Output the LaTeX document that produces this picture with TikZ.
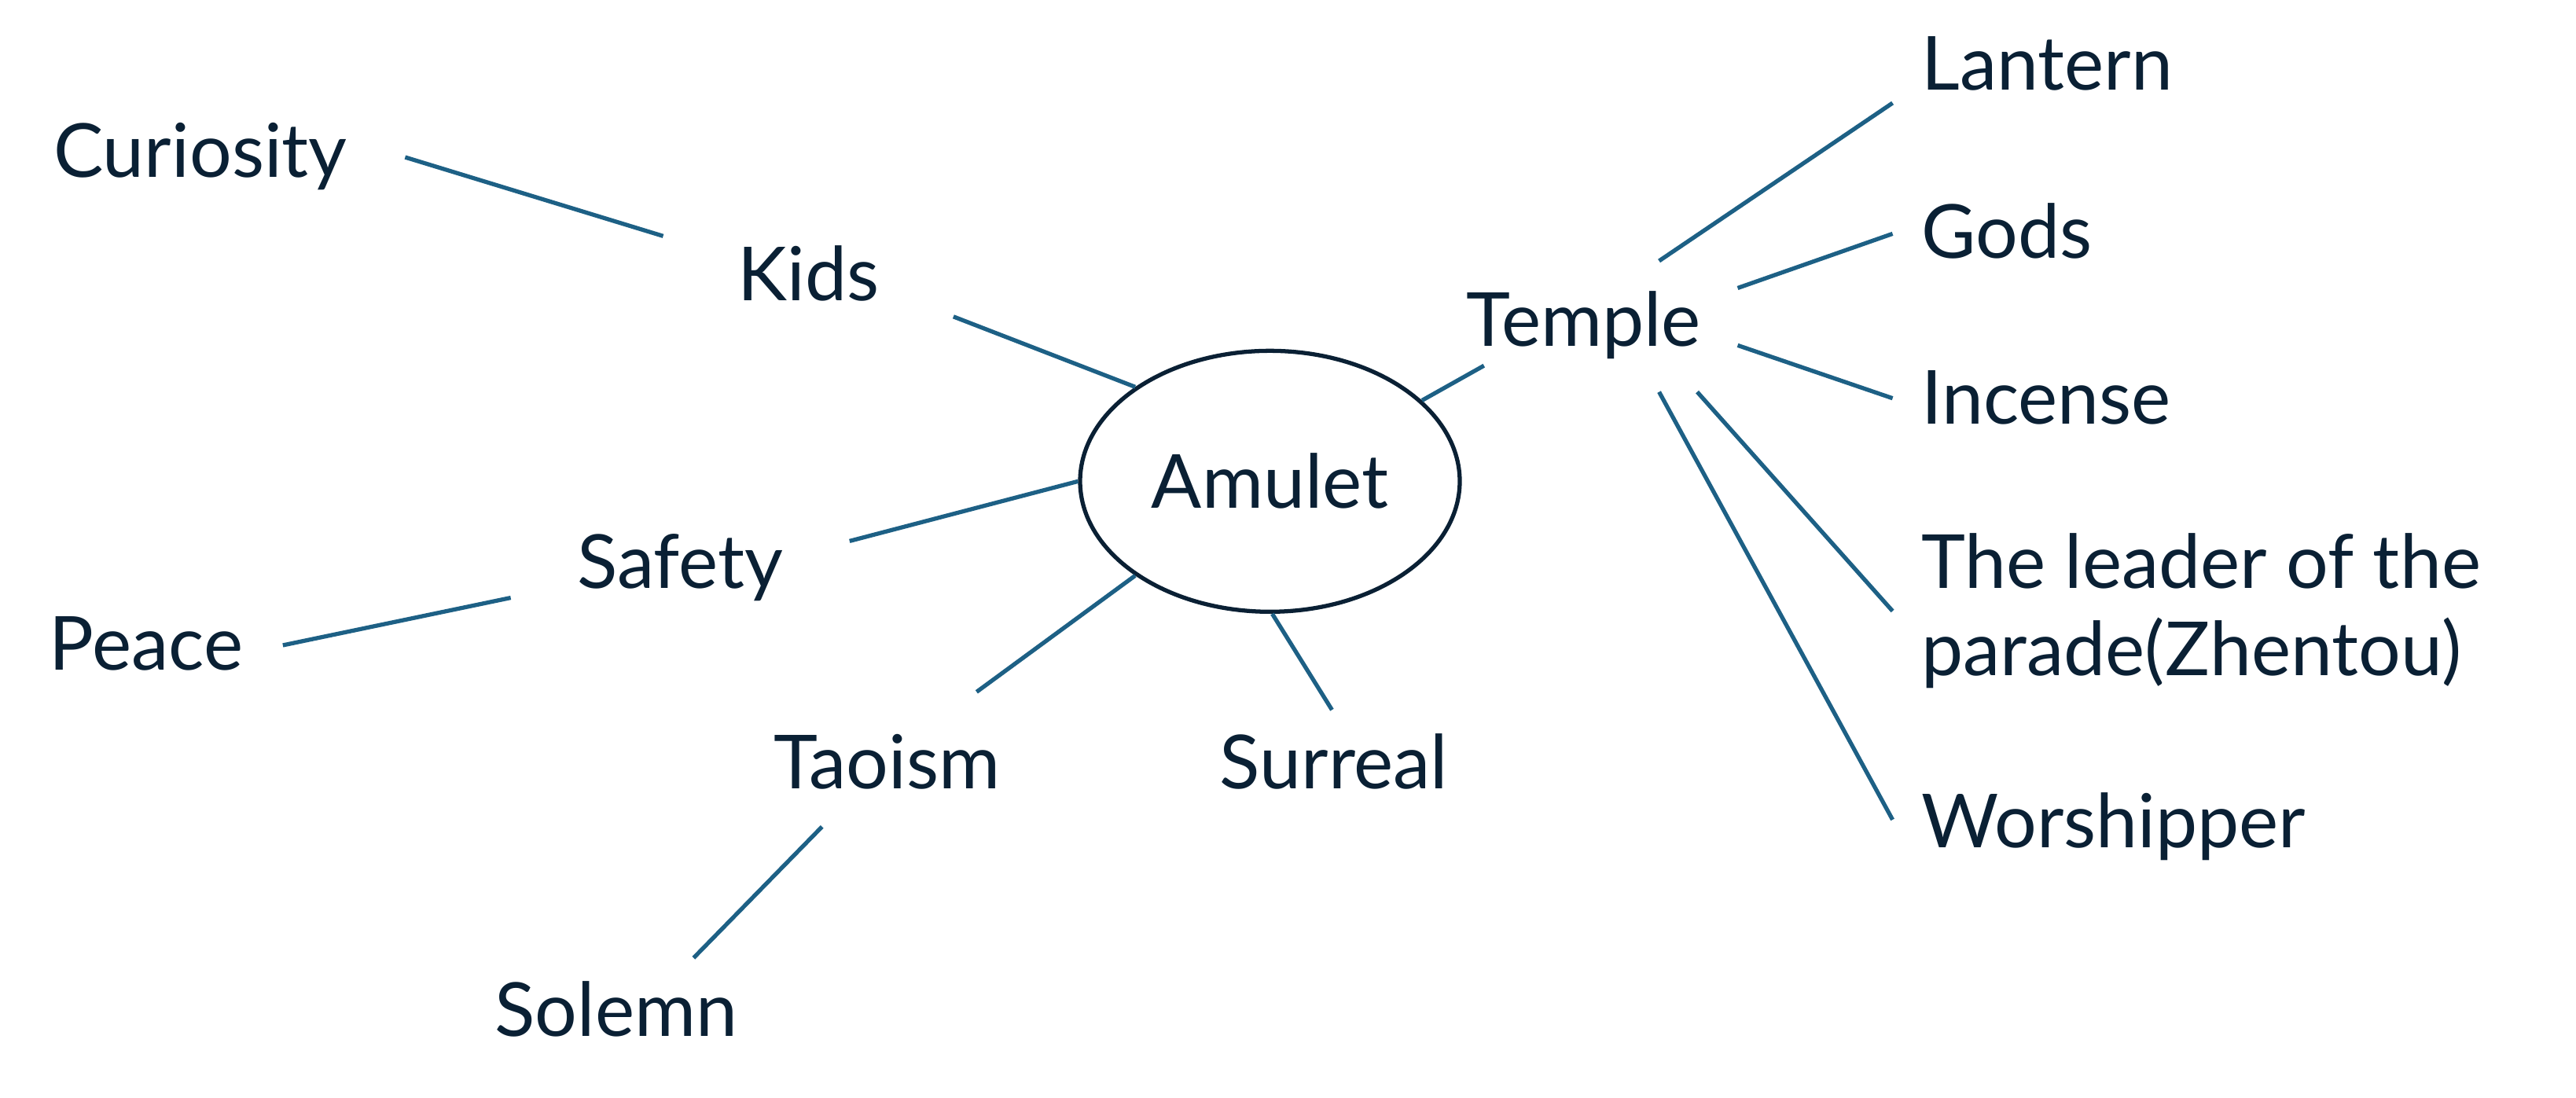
\documentclass[tikz,border=0pt]{standalone}
\usepackage{fontspec}
\setmainfont{Lato}
\usetikzlibrary{shapes.geometric}
\definecolor{ink}{HTML}{0A2034}
\definecolor{branch}{HTML}{1D6085}

\begin{document}
\begin{tikzpicture}[x=0.209mm,y=-0.209mm,
  idea/.style={text=ink,font=\fontsize{27}{31.5}\selectfont,inner xsep=0.73cm,inner ysep=0.29cm},
  word/.style={idea,text height=20pt,text depth=5.4pt,anchor=base},
  leaf/.style={word,anchor=base west,inner xsep=0.36cm},
  link/.style={draw=branch,line width=1.5pt}]
\useasboundingbox (0,0) rectangle (1568,668);

% centre
\node[ellipse,draw=ink,line width=1.5pt,minimum width=4.83cm,minimum height=3.32cm,
  inner sep=0,text=ink,font=\fontsize{27}{31.5}\selectfont] (amulet) at (773,293) {Amulet};

% left side
\node[word] (curiosity) at (122,108) {Curiosity};
\node[word,inner xsep=0.94cm] (kids) at (492,183) {Kids};
\node[word,inner xsep=0.84cm] (safety) at (414,358) {Safety};
\node[word,inner xsep=0.5cm] (peace) at (89,408) {Peace};
\node[word,text height=26.5pt] (taoism) at (540,480) {Taoism};
\node[word] (solemn) at (375,631) {Solemn};
\node[word] (surreal) at (812,480) {Surreal};

% temple and its leaves
\node[word,inner xsep=0.46cm,inner ysep=0.38cm] (temple) at (964,211) {Temple};
\node[leaf] (lantern) at (1152,55) {Lantern};
\node[leaf] (gods) at (1152,157) {Gods};
\node[leaf] (incense) at (1152,258) {Incense};
\node[idea,anchor=west,align=left,inner xsep=0.36cm] (leader) at (1152,372) {The leader of the\\parade(Zhentou)};
\node[leaf] (worshipper) at (1152,516) {Worshipper};

\draw[link] (curiosity.east) -- (kids.163);
\draw[link] (kids.-14) -- (amulet.145);
\draw[link] (safety.9) -- (amulet.180);
\draw[link] (peace.2) -- (safety.190);
\draw[link] (taoism.37) -- (amulet.215);
\draw[link] (solemn.37) -- (taoism.226);
\draw[link] (amulet.271) -- (surreal.92);
\draw[link] (amulet.28) -- ([shift={(33,-16)}]temple.south west);

\draw[link] (temple.41) -- (lantern.192);
\draw[link] (temple.14) -- (gods.178);
\draw[link] (temple.-7) -- (incense.178);
\draw[link] (temple.-30) -- (leader.west);
\draw[link] (temple.-41) -- (worshipper.178);
\end{tikzpicture}
\end{document}
